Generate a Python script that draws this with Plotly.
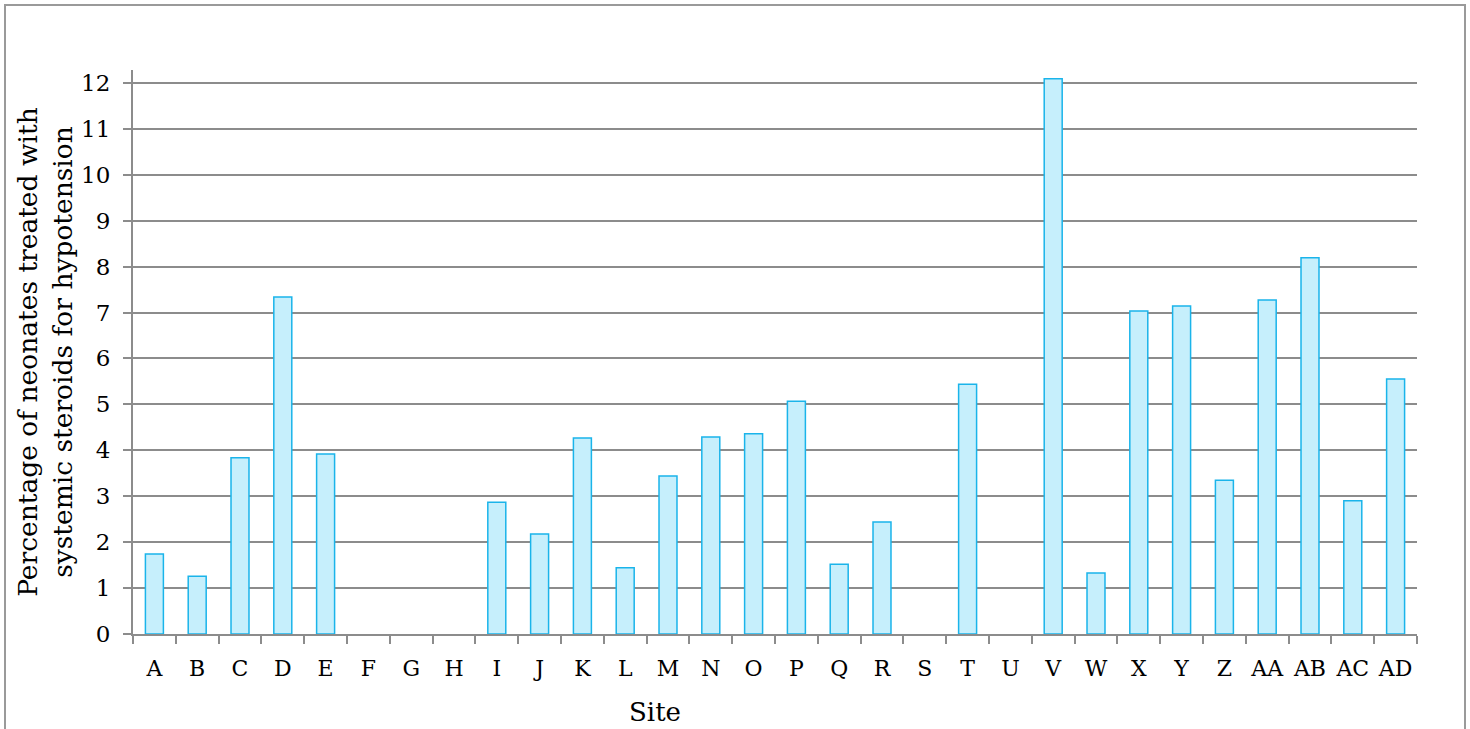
import plotly.graph_objects as go

sites = ["A", "B", "C", "D", "E", "F", "G", "H", "I", "J", "K", "L", "M", "N", "O",
         "P", "Q", "R", "S", "T", "U", "V", "W", "X", "Y", "Z", "AA", "AB", "AC", "AD"]
percent = [1.74, 1.26, 3.84, 7.34, 3.92, 0, 0, 0, 2.87, 2.18, 4.27, 1.44, 3.44, 4.29, 4.36,
           5.07, 1.52, 2.44, 0, 5.44, 0, 12.09, 1.33, 7.03, 7.14, 3.35, 7.27, 8.19, 2.90, 5.55]
y_ticks = list(range(0, 13))

FONT = "DejaVu Serif"
GRID = "#8c8c8c"

# zero values draw no visible bar in the reference
shown = [v if v > 0 else None for v in percent]

fig = go.Figure()
fig.add_trace(go.Bar(
    x=sites, y=shown, width=0.42,
    marker=dict(color="#c6effc", line=dict(color="#1ab4ea", width=1.5)),
    showlegend=False,
))

fig.update_layout(
    width=1470, height=729,
    margin=dict(l=133, r=53, t=70, b=95),
    paper_bgcolor="white", plot_bgcolor="white",
    font=dict(family=FONT, color="black"),
    xaxis=dict(
        type="category", tickson="boundaries", ticks="outside", ticklen=8,
        tickcolor=GRID, tickwidth=2, showline=True, linecolor=GRID, linewidth=2,
        showgrid=False, tickfont=dict(size=22, family=FONT), ticklabelstandoff=14,
        tickangle=0, automargin=False,
    ),
    yaxis=dict(
        range=[0, 12.28], tickvals=y_ticks, ticks="outside", ticklen=8,
        tickcolor=GRID, tickwidth=2, showline=True, linecolor=GRID, linewidth=2,
        showgrid=True, gridcolor=GRID, gridwidth=2, zeroline=False, automargin=False,
        tickfont=dict(size=23, family=FONT), ticklabelstandoff=8,
        title=dict(text="Percentage of neonates treated with<br>systemic steroids for hypotension",
                   font=dict(size=26.5, family=FONT), standoff=1),
    ),
    annotations=[dict(text="Site", xref="paper", yref="paper",
                      x=(655 - 133) / 1284, y=(634 - 712) / 564,
                      xanchor="center", yanchor="middle", showarrow=False,
                      font=dict(size=26, family=FONT, color="black"))],
    shapes=[dict(type="rect", xref="paper", yref="paper",
                 x0=(5 - 133) / 1284, x1=(1465 - 133) / 1284,
                 y0=-0.3, y1=(634 - 5) / 564,
                 line=dict(color="#9a9a9a", width=2), fillcolor="rgba(0,0,0,0)", layer="below")],
)

fig.write_html("out.html", config={"displayModeBar": False},
               post_script="document.body.style.margin='0';")
